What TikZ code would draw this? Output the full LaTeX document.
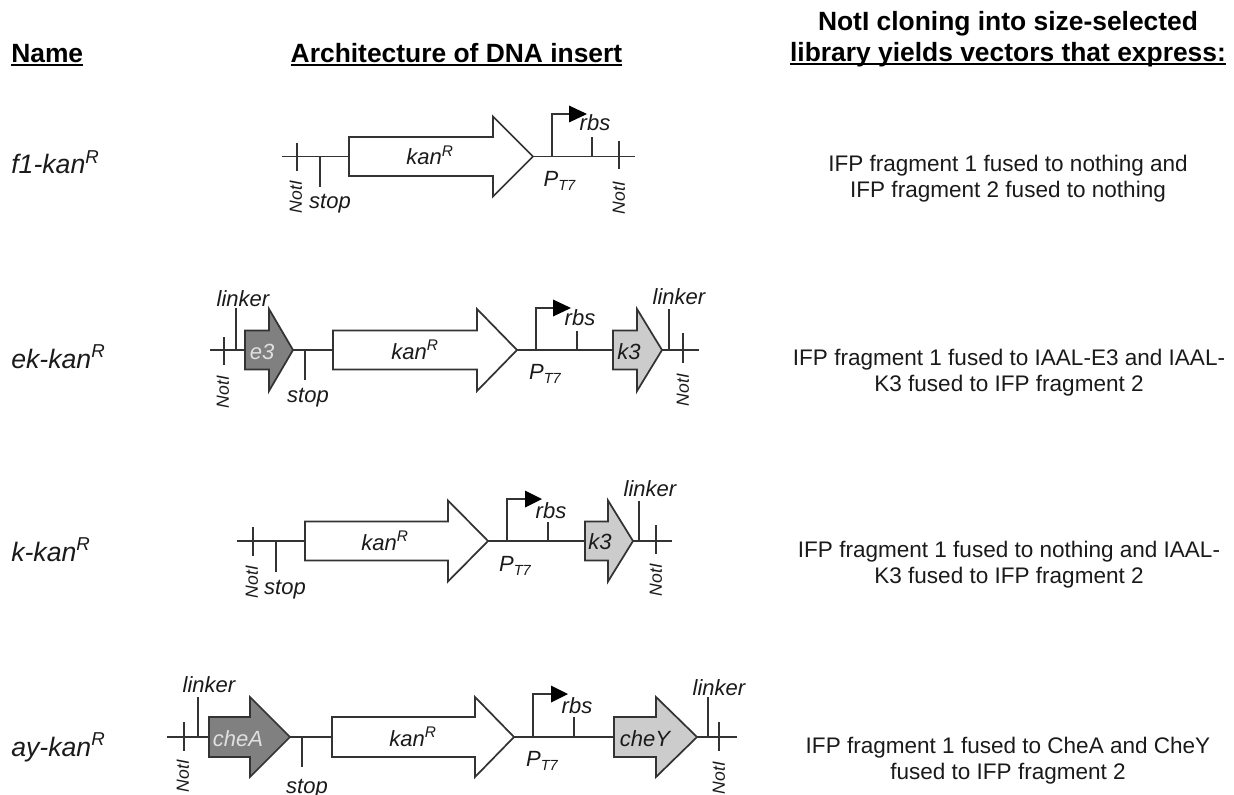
\documentclass[tikz,border=0pt]{standalone}
\usepackage{fontspec}
\setmainfont{Liberation Sans}
\definecolor{ink}{HTML}{333333}
\definecolor{txt}{HTML}{1A1A1A}
\definecolor{darkgene}{HTML}{808080}
\definecolor{lightgene}{HTML}{CCCCCC}
\newcommand\hdrline[1]{\setbox0\hbox{#1}\rlap{\rule[-2.6pt]{\wd0}{1.5pt}}\box0}
\newcommand\kanR{kan\textsuperscript{R}}
\newcommand\PTseven{P\raisebox{-3.5pt}{\fontsize{11}{11}\selectfont T7}}
\tikzset{
  x=0.75pt, y=-0.75pt,
  wire/.style={draw=ink, line width=1.2pt},
  gene/.style={draw=ink, line width=1.3pt, line join=miter, fill=#1},
  lab/.style={anchor=base, inner sep=0pt, text=txt, font=\fontsize{16.5}{18}\selectfont\itshape},
  vertlab/.style={anchor=center, inner sep=0pt, text=txt, rotate=90, font=\fontsize{13.2}{15}\selectfont\itshape},
  namelab/.style={anchor=base west, inner sep=0pt, text=txt, font=\fontsize{20}{22}\selectfont\itshape},
  hdr/.style={anchor=base, inner sep=0pt, text=black, font=\fontsize{19.8}{24}\selectfont\bfseries},
  bodytxt/.style={anchor=center, inner sep=0pt, align=center, text=txt, font=\fontsize{16.9}{19.5}\selectfont},
}
% backbone: y, x-left, x-right
\newcommand\backbone[3]{\draw[wire] (#2,#1) -- (#3,#1);}
% gene arrow: fill, axis, shaft half, head half, x start, x head base, x tip
\newcommand\genearrow[7]{\draw[gene=#1] (#5,#2-#3) -- (#6,#2-#3) -- (#6,#2-#4) -- (#7,#2) -- (#6,#2+#4) -- (#6,#2+#3) -- (#5,#2+#3) -- cycle;}
% tick: x, y1, y2
\newcommand\tick[3]{\draw[wire] (#1,#2) -- (#1,#3);}
% promoter: axis, x, top, head base, tip, head half
\newcommand\promoter[6]{\draw[wire] (#2,#1) -- (#2,#3) -- (#4,#3);
  \fill[black] (#4,#3-#6) -- (#5,#3) -- (#4,#3+#6) -- cycle;}
\begin{document}
\begin{tikzpicture}
\useasboundingbox (0,0) rectangle (1234,795);
% headers
\node[hdr, anchor=base west] (hname) at (11,63) {\hdrline{Name}};
\node[hdr] (harch) at (456.5,63) {\hdrline{Architecture of DNA insert}};
\node[hdr] (hcl1) at (1008,31) {NotI cloning into size-selected};
\node[hdr] (hcl2) at (1008,62) {\hdrline{library yields vectors that express:}};
% names
\node[namelab] (n1) at (11,174) {f1-\kanR};
\node[namelab] (n2) at (11,368) {ek-\kanR};
\node[namelab] (n3) at (11,561) {k-\kanR};
\node[namelab] (n4) at (11,756) {ay-\kanR};
% descriptions
\node[bodytxt] (d1) at (1008,179) {IFP fragment 1 fused to nothing and\\IFP fragment 2 fused to nothing};
\node[bodytxt] (d2) at (1009,373) {IFP fragment 1 fused to IAAL-E3 and IAAL-\\K3 fused to IFP fragment 2};
\node[bodytxt] (d3) at (1009,564.5) {IFP fragment 1 fused to nothing and IAAL-\\K3 fused to IFP fragment 2};
\node[bodytxt] (d4) at (1008,761) {IFP fragment 1 fused to CheA and CheY\\fused to IFP fragment 2};
% row 1
\backbone{156.5}{282}{635}
\tick{297}{143}{171}
\tick{320}{156.5}{187}
\tick{592}{156.5}{137}
\tick{619}{141}{169}
\promoter{156.5}{552}{114}{569}{587}{8.5}
\genearrow{white}{156.5}{19.5}{40}{349}{493}{533}
\node[lab] (r1kan) at (430,165) {\kanR};
\node[lab] (r1p) at (559.5,186) {\PTseven};
\node[lab] (r1rbs) at (595,131) {rbs};
\node[lab] (r1stop) at (330,208) {stop};
\node[vertlab] (r1nl) at (296,197) {NotI};
\node[vertlab] (r1nr) at (619,198) {NotI};
% row 2
\backbone{350}{210}{699}
\tick{224}{337}{365}
\tick{236}{350}{308}
\tick{305}{350}{380}
\tick{577}{350}{331}
\tick{669}{350}{309}
\tick{683}{333}{363}
\promoter{350}{536}{308}{553}{571}{8.5}
\genearrow{darkgene}{350}{19.5}{41}{245}{269}{293}
\genearrow{white}{350}{19.5}{41}{333}{477}{517}
\genearrow{lightgene}{350}{19.5}{41}{613}{637}{662}
\node[lab] (r2kan) at (415,359) {\kanR};
\node[lab] (r2p) at (545,379) {\PTseven};
\node[lab] (r2rbs) at (580,325) {rbs};
\node[lab] (r2ll) at (243,306) {linker};
\node[lab] (r2lr) at (679,304) {linker};
\node[lab] (r2stop) at (308,402) {stop};
\node[lab, text=white!88!black] (r2e) at (262,359) {e3};
\node[lab] (r2k) at (629,359) {k3};
\node[vertlab] (r2nl) at (223,392) {NotI};
\node[vertlab] (r2nr) at (683,390) {NotI};
% row 3
\backbone{541}{237}{672}
\tick{253}{527}{556}
\tick{276}{541}{572}
\tick{548}{541}{522}
\tick{639}{541}{501}
\tick{656}{525}{554}
\promoter{541}{507}{499}{525}{542}{8.5}
\genearrow{white}{541}{19.5}{40.5}{305}{448}{488}
\genearrow{lightgene}{541}{19.5}{40.5}{585}{608}{633}
\node[lab] (r3kan) at (385,550) {\kanR};
\node[lab] (r3p) at (515,571) {\PTseven};
\node[lab] (r3rbs) at (551,518) {rbs};
\node[lab] (r3lr) at (650,496) {linker};
\node[lab] (r3stop) at (285,594) {stop};
\node[lab] (r3k) at (600,549) {k3};
\node[vertlab] (r3nl) at (252,582) {NotI};
\node[vertlab] (r3nr) at (656,580) {NotI};
% row 4
\backbone{737}{167}{737}
\tick{184}{722}{751}
\tick{198}{737}{697}
\tick{302}{737}{767}
\tick{574}{737}{717}
\tick{708}{737}{697}
\tick{719}{722}{751}
\promoter{737}{533}{694}{551}{568}{8.5}
\genearrow{darkgene}{737}{20}{40}{209}{250}{290}
\genearrow{white}{737}{20}{40}{332}{475}{514}
\genearrow{lightgene}{737}{20}{40}{614}{656}{697}
\node[lab] (r4kan) at (413,746) {\kanR};
\node[lab] (r4p) at (542,766) {\PTseven};
\node[lab] (r4rbs) at (577,713) {rbs};
\node[lab] (r4ll) at (209,692) {linker};
\node[lab] (r4lr) at (719,695) {linker};
\node[lab] (r4stop) at (307,793) {stop};
\node[lab, text=white!88!black] (r4a) at (238,746) {cheA};
\node[lab] (r4y) at (645,746) {cheY};
\node[vertlab] (r4nl) at (183,776) {NotI};
\node[vertlab] (r4nr) at (719,778) {NotI};
\end{tikzpicture}
\end{document}
